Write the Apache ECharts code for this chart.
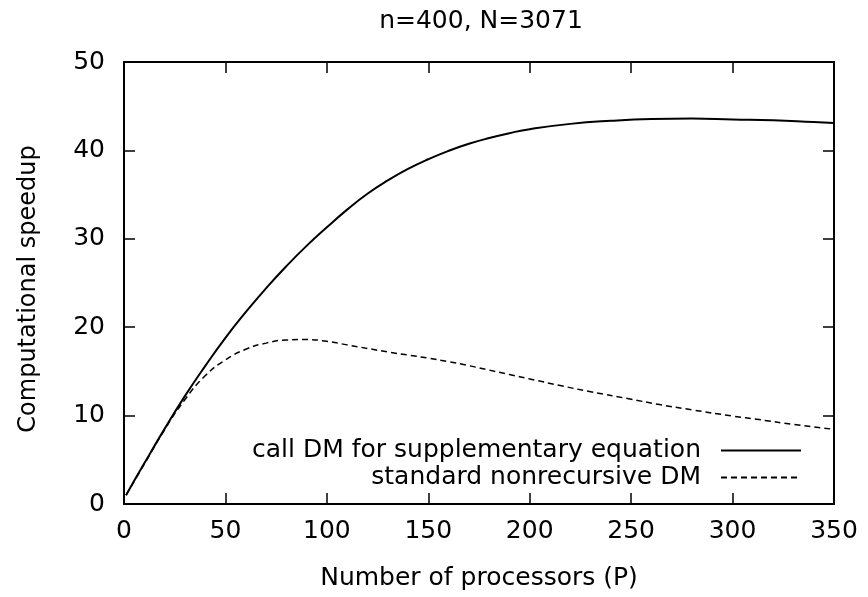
<!DOCTYPE html>
<html>
<head>
<meta charset="utf-8">
<script src="https://cdn.jsdelivr.net/npm/echarts@6/dist/echarts.min.js"></script>
<style>html,body{margin:0;padding:0;background:#fff}#c{width:868px;height:597px}</style>
</head>
<body>
<div id="c"></div>
<script>
const titleText = 'n=400, N=3071';
const xName = 'Number of processors (P)';
const yName = 'Computational speedup';
const seriesNames = ['call DM for supplementary equation', 'standard nonrecursive DM'];
const xTicks = [0, 50, 100, 150, 200, 250, 300, 350];
const yTicks = [0, 10, 20, 30, 40, 50];

const pSolid = [1, 10, 20, 30, 40, 50, 60, 70, 80, 90, 100, 110, 120, 130, 140, 150, 160, 170, 180, 190, 200, 220, 240, 260, 280, 300, 320, 340, 350];
const ySolid = [1, 4.6, 8.5, 12.2, 15.6, 18.8, 21.7, 24.4, 26.9, 29.2, 31.3, 33.3, 35.1, 36.6, 37.9, 39.0, 39.95, 40.75, 41.4, 41.95, 42.4, 43.0, 43.35, 43.55, 43.6, 43.5, 43.4, 43.2, 43.1];

const pDash = [1, 10, 20, 30, 40, 50, 60, 70, 80, 90, 100, 110, 120, 130, 140, 150, 160, 170, 180, 190, 200, 215, 230, 250, 264, 280, 300, 313, 330, 350];
const yDash = [1, 4.5, 8.4, 11.8, 14.5, 16.3, 17.5, 18.2, 18.55, 18.6, 18.4, 18.0, 17.6, 17.2, 16.85, 16.5, 16.1, 15.65, 15.15, 14.65, 14.15, 13.4, 12.7, 11.85, 11.25, 10.65, 9.95, 9.55, 9.0, 8.45];

const solidData = pSolid.map((p, i) => [p, ySolid[i]]);
const dashData = pDash.map((p, i) => [p, yDash[i]]);

const FONT = '"DejaVu Sans", sans-serif';
const FS = 25;
const chart = echarts.init(document.getElementById('c'), null, {renderer: 'canvas'});

const baseX = {
  type: 'value', min: xTicks[0], max: xTicks[xTicks.length - 1], interval: 50,
  axisLine: {show: true, onZero: false, lineStyle: {color: '#000', width: 2}},
  axisTick: {show: true, inside: true, length: 11, lineStyle: {color: '#000', width: 1.5}},
  splitLine: {show: false}
};
const baseY = {
  type: 'value', min: yTicks[0], max: yTicks[yTicks.length - 1], interval: 10,
  axisLine: {show: true, onZero: false, lineStyle: {color: '#000', width: 2}},
  axisTick: {show: true, inside: true, length: 11, lineStyle: {color: '#000', width: 1.5}},
  splitLine: {show: false}
};

const legendCommon = {
  right: 66, align: 'right', padding: 0,
  itemWidth: 80, itemHeight: 14, itemGap: 0,
  itemStyle: {color: 'rgba(0,0,0,0)', borderWidth: 0, opacity: 0},
  textStyle: {fontFamily: FONT, fontSize: FS, color: '#000', padding: [0, 15, 0, 0]},
  selectedMode: false
};

chart.setOption({
  animation: false,
  backgroundColor: '#fff',
  title: {
    text: titleText, left: 481, top: 9, textAlign: 'center', padding: 0,
    textStyle: {fontFamily: FONT, fontSize: FS, fontWeight: 'normal', color: '#000'}
  },
  grid: {left: 124, right: 34, top: 62, bottom: 93},
  xAxis: [
    Object.assign({}, baseX, {
      position: 'bottom',
      name: xName, nameLocation: 'middle', nameGap: 62,
      nameTextStyle: {fontFamily: FONT, fontSize: FS, color: '#000'},
      axisLabel: {fontFamily: FONT, fontSize: FS, color: '#000', margin: 15}
    }),
    Object.assign({}, baseX, {position: 'top', axisLabel: {show: false}})
  ],
  yAxis: [
    Object.assign({}, baseY, {
      position: 'left',
      name: yName, nameLocation: 'middle', nameGap: 83, nameRotate: 90,
      nameTextStyle: {fontFamily: FONT, fontSize: 24, color: '#000', padding: [0, 12, 0, 0]},
      axisLabel: {fontFamily: FONT, fontSize: FS, color: '#000', margin: 19}
    }),
    Object.assign({}, baseY, {position: 'right', axisLabel: {show: false}})
  ],
  legend: [
    Object.assign({}, legendCommon, {data: [seriesNames[0]], top: 438}),
    Object.assign({}, legendCommon, {data: [seriesNames[1]], top: 465})
  ],
  series: [
    {
      name: seriesNames[0], type: 'line', data: solidData, smooth: true,
      showSymbol: false, symbol: 'none',
      lineStyle: {color: '#000', width: 2, type: 'solid'},
      itemStyle: {color: '#000'}
    },
    {
      name: seriesNames[1], type: 'line', data: dashData, smooth: true,
      showSymbol: false, symbol: 'none',
      lineStyle: {color: '#000', width: 1.5, type: [6, 4]},
      itemStyle: {color: '#000'}
    }
  ]
});
</script>
</body>
</html>
